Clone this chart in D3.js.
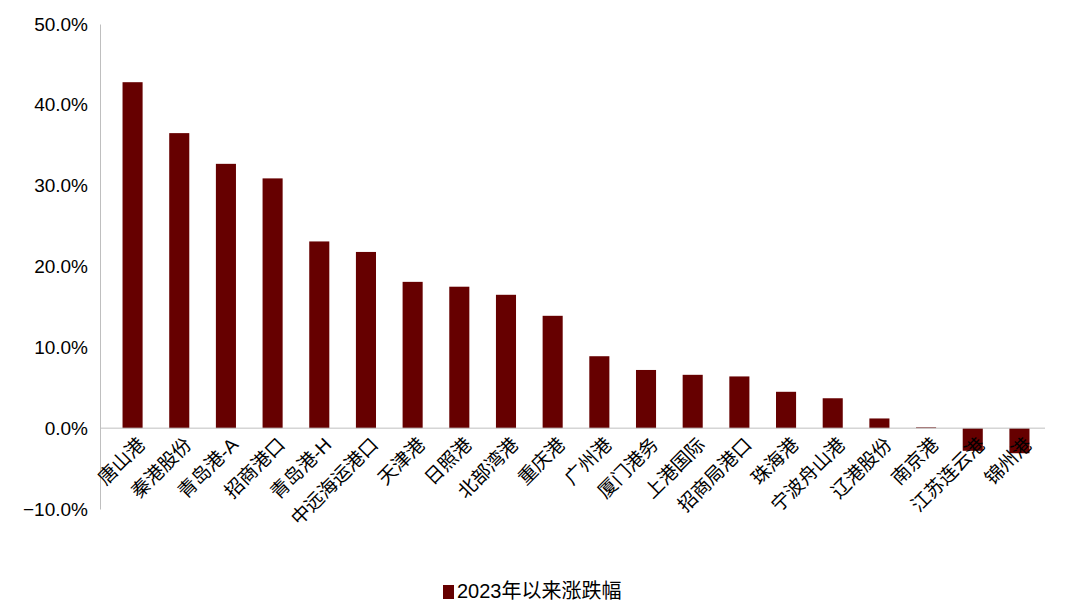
<!DOCTYPE html>
<html><head><meta charset="utf-8">
<script src="https://cdn.jsdelivr.net/npm/d3@7"></script>
<style>body{margin:0;background:#fff}</style>
</head><body>
<script>
const categories = ["唐山港","秦港股份","青岛港-A","招商港口","青岛港-H","中远海运港口","天津港","日照港","北部湾港","重庆港","广州港","厦门港务","上港国际","招商局港口","珠海港","宁波舟山港","辽港股份","南京港","江苏连云港","锦州港"];
const values = [42.8,36.5,32.7,30.9,23.1,21.8,18.1,17.5,16.5,13.9,8.9,7.2,6.6,6.4,4.5,3.7,1.2,0.1,-2.8,-3.1];
const yTicks = [-0.1,0,0.1,0.2,0.3,0.4,0.5];
const legendLabel = "2023年以来涨跌幅";

const width = 1080, height = 613;
const font = "Arial, 'Liberation Sans', 'Noto Sans CJK SC', sans-serif";
const svg = d3.select("body").append("svg").attr("width", width).attr("height", height);

const x = d3.scaleBand().domain(categories).range([109, 1043]).paddingInner(0.57).paddingOuter(0.29);
const y = d3.scaleLinear().domain([-0.1, 0.5]).range([509, 24]);

svg.append("g").attr("transform", "translate(100,0)")
  .call(d3.axisLeft(y).tickValues(yTicks).tickFormat(d3.format(".1%")).tickSize(0).tickPadding(12))
  .call(g => g.select(".domain").attr("stroke", "#bfbfbf"))
  .selectAll("text").attr("font-family", font).attr("font-size", 19).attr("fill", "#000");

svg.selectAll(".bar").data(values).enter().append("rect")
  .attr("x", (d, i) => x(categories[i]))
  .attr("width", x.bandwidth())
  .attr("y", d => y(Math.max(0, d / 100)))
  .attr("height", d => Math.abs(y(d / 100) - y(0)))
  .attr("fill", "#660000");

svg.append("line").attr("x1", 100).attr("x2", 1045).attr("y1", y(0)).attr("y2", y(0)).attr("stroke", "#bfbfbf");

svg.selectAll(".lbl").data(categories).enter().append("text")
  .attr("transform", d => `translate(${x(d) + x.bandwidth() / 2 + 10},${y(0) + 14}) rotate(-45)`)
  .attr("text-anchor", "end").attr("dominant-baseline", "middle")
  .attr("font-family", font).attr("font-size", 19).text(d => d);

const lg = svg.append("g").attr("transform", "translate(443,592)");
lg.append("rect").attr("x", 0).attr("y", -7).attr("width", 11).attr("height", 14).attr("fill", "#660000");
lg.append("text").attr("x", 14).attr("y", 1).attr("dominant-baseline", "middle")
  .attr("font-family", font).attr("font-size", 20).text(legendLabel);
</script>
</body></html>
